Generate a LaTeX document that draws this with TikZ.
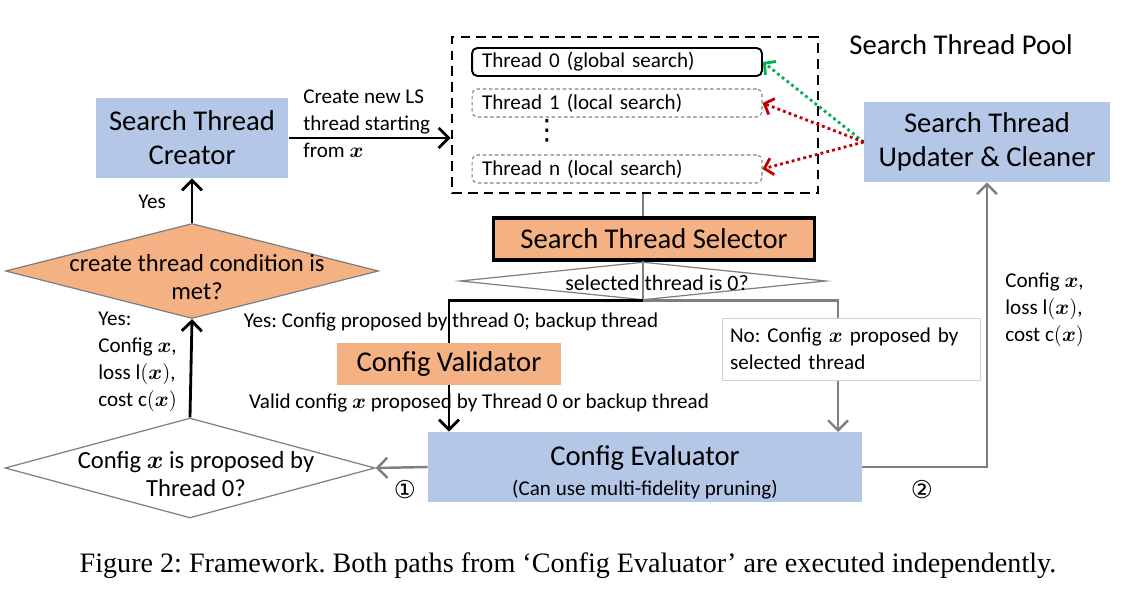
\documentclass[tikz,border=0pt]{standalone}
\usepackage{amsmath}
\usepackage{fontspec}
\setmainfont{Carlito}
\newfontfamily\capfont{Liberation Serif}
\newfontfamily\circfont{DejaVu Sans}
\usetikzlibrary{shapes.geometric,arrows.meta,positioning}
\definecolor{boxblue}{HTML}{B4C7E7}
\definecolor{boxorange}{HTML}{F4B183}
\definecolor{linegray}{HTML}{7F7F7F}
\definecolor{dotgreen}{HTML}{00B050}
\definecolor{dotred}{HTML}{C00000}
\newcommand\bigtxt{\fontsize{16.3}{19.3}\selectfont}
\newcommand\midtxt{\fontsize{14}{16}\selectfont}
\newcommand\smalltxt{\fontsize{12}{15.3}\selectfont}
\newcommand\vx{\boldsymbol{x}}
\frenchspacing
\tikzset{
	bluebox/.style={fill=boxblue, inner sep=0pt, align=center, font=\bigtxt},
	orangebox/.style={fill=boxorange, inner sep=0pt, align=center, font=\bigtxt},
	threadbox/.style={draw, rounded corners=3pt, minimum width=5.8cm, minimum height=0.56cm, inner xsep=0.2cm, inner ysep=0pt, text width=5.4cm, align=left, font=\smalltxt},
	localbox/.style={threadbox, draw=linegray, line width=0.6pt, dash pattern=on 2pt off 1.5pt},
	cond/.style={diamond, draw=linegray, line width=0.7pt, inner sep=0pt},
	txt/.style={inner sep=0pt, font=\smalltxt},
	mainarrow/.style={line width=1.6pt, -{Straight Barb[length=2mm,width=4mm]}},
	grayline/.style={linegray, line width=1.4pt},
	grayarrow/.style={grayline, -{Straight Barb[length=2mm,width=4mm]}},
	dotarrow/.style={line width=1.6pt, dash pattern=on 1.6pt off 1.8pt, -{Straight Barb[length=1.6mm,width=3.4mm]}},
}
\begin{document}
\begin{tikzpicture}[x=0.02cm, y=-0.02cm]
	\useasboundingbox (0,0) rectangle (1125,607);
	% Erzeuger und Pool
	\node[bluebox, minimum width=3.86cm, minimum height=1.6cm] (creator) at (192,138) {Search Thread\\Creator};
	\node[draw, line width=1.5pt, dash pattern=on 5.5pt off 3.5pt, minimum width=7.32cm, minimum height=3.12cm] (pool) at (635,115) {};
	\node[font=\bigtxt, inner sep=0pt, anchor=west] (pooltitle) at (849,45) {Search Thread Pool};
	\node[threadbox, line width=1.1pt] (thread0) at (617,62) {Thread 0 (global search)};
	\node[localbox] (thread1) at (617,103) {Thread 1 (local search)};
	\node[font=\circfont\fontsize{16}{18}\selectfont, inner sep=0pt] (dots) at (547,131) {⋮};
	\node[localbox] (threadn) at (617,169) {Thread n (local search)};
	\node[bluebox, minimum width=4.92cm, minimum height=1.6cm] (updater) at (987,142) {Search Thread\\Updater \& Cleaner};
	% Auswahl
	\node[orangebox, draw, line width=2pt, minimum width=6.42cm, minimum height=0.84cm] (selector) at (654,239) {Search Thread Selector};
	\node[cond, fill=white, minimum width=7.32cm, minimum height=0.76cm] (iszero) at (643,281) {};
	\node[txt, font=\fontsize{12.5}{15}\selectfont] (iszerotext) at (657,283) {selected thread is 0?};
	\node[orangebox, minimum width=4.48cm, minimum height=0.84cm] (validator) at (449,364) {Config Validator};
	\node[bluebox, minimum width=8.68cm, minimum height=1.4cm, text height=1.25cm, text depth=0.1cm] (evaluator) at (645,467) {Config Evaluator\\[-2pt]{\smalltxt (Can use multi-fidelity pruning)}};
	% Bedingungen links
	\node[cond, fill=white, minimum width=7.4cm, minimum height=2cm] (proposed) at (190,468) {};
	\node[txt, font=\midtxt, align=center] (proposedtext) at (196,474) {Config $\vx$ is proposed by\\Thread 0?};
	\node[cond, fill=boxorange, minimum width=7.46cm, minimum height=1.9cm] (create) at (192,271) {};
	\node[txt, font=\midtxt, align=center] (createtext) at (197,277) {create thread condition is\\met?};
	\coordinate (noin) at (838,432);
	% Verbindungen
	\draw[mainarrow] (creator.east) -- (pool.west |- creator.east);
	\node[txt, anchor=west, align=left] (createlabel) at (303,124) {Create new LS\\thread starting\\from $\vx$};
	\draw[dotarrow, dotgreen] (updater.west) -- (thread0.east);
	\draw[dotarrow, dotred] (updater.west) -- (thread1.east);
	\draw[dotarrow, dotred] (updater.west) -- (threadn.east);
	\draw[grayline] (pool.south -| iszero) -- (selector.north -| iszero);
	\draw[grayline, line width=0.8pt] (iszero.north) -- (iszero.south);
	\node[txt] (yeslabel) at (451,322) {Yes: Config proposed by thread 0; backup thread};
	\draw[line width=1.6pt] (iszero.south) -| (validator.north);
	\draw[grayarrow] (iszero.south) -| (noin);
	\node[txt, draw=gray!35, fill=white, minimum width=5.16cm, minimum height=1.24cm, inner xsep=0.16cm, text width=4.84cm, align=left] (nolabel) at (851,349) {No: Config $\vx$ proposed by\\selected thread};
	\node[txt] (validlabel) at (479,403) {Valid config $\vx$ proposed by Thread 0 or backup thread};
	\draw[mainarrow] (validator.south) -- (validator.south |- evaluator.north);
	\draw[grayarrow] (evaluator.west) -- (proposed.east);
	\node[font=\circfont\fontsize{14}{16}\selectfont, inner sep=0pt] (one) at (405,490) {①};
	\draw[grayarrow] (evaluator.east) -| (updater.south);
	\node[font=\circfont\fontsize{14}{16}\selectfont, inner sep=0pt] (two) at (922,490) {②};
	\node[txt, anchor=west, align=left] (resultlabel) at (1005,310) {Config $\vx$,\\loss $\mathrm{l}(\vx)$,\\cost c$(\vx)$};
	\draw[mainarrow] (proposed.north) -- (create.south);
	\node[txt, anchor=west, align=left] (yesresult) at (98,362) {Yes:\\Config $\vx$,\\loss $\mathrm{l}(\vx)$,\\cost c$(\vx)$};
	\draw[mainarrow] (create.north) -- (creator.south);
	\node[txt] (yestop) at (152,202) {Yes};
	% Bildunterschrift
	\node[font=\capfont\fontsize{16}{18}\selectfont, inner sep=0pt] (caption) at (568,566) {Figure 2: Framework. Both paths from ‘Config Evaluator’ are executed independently.};
\end{tikzpicture}
\end{document}
